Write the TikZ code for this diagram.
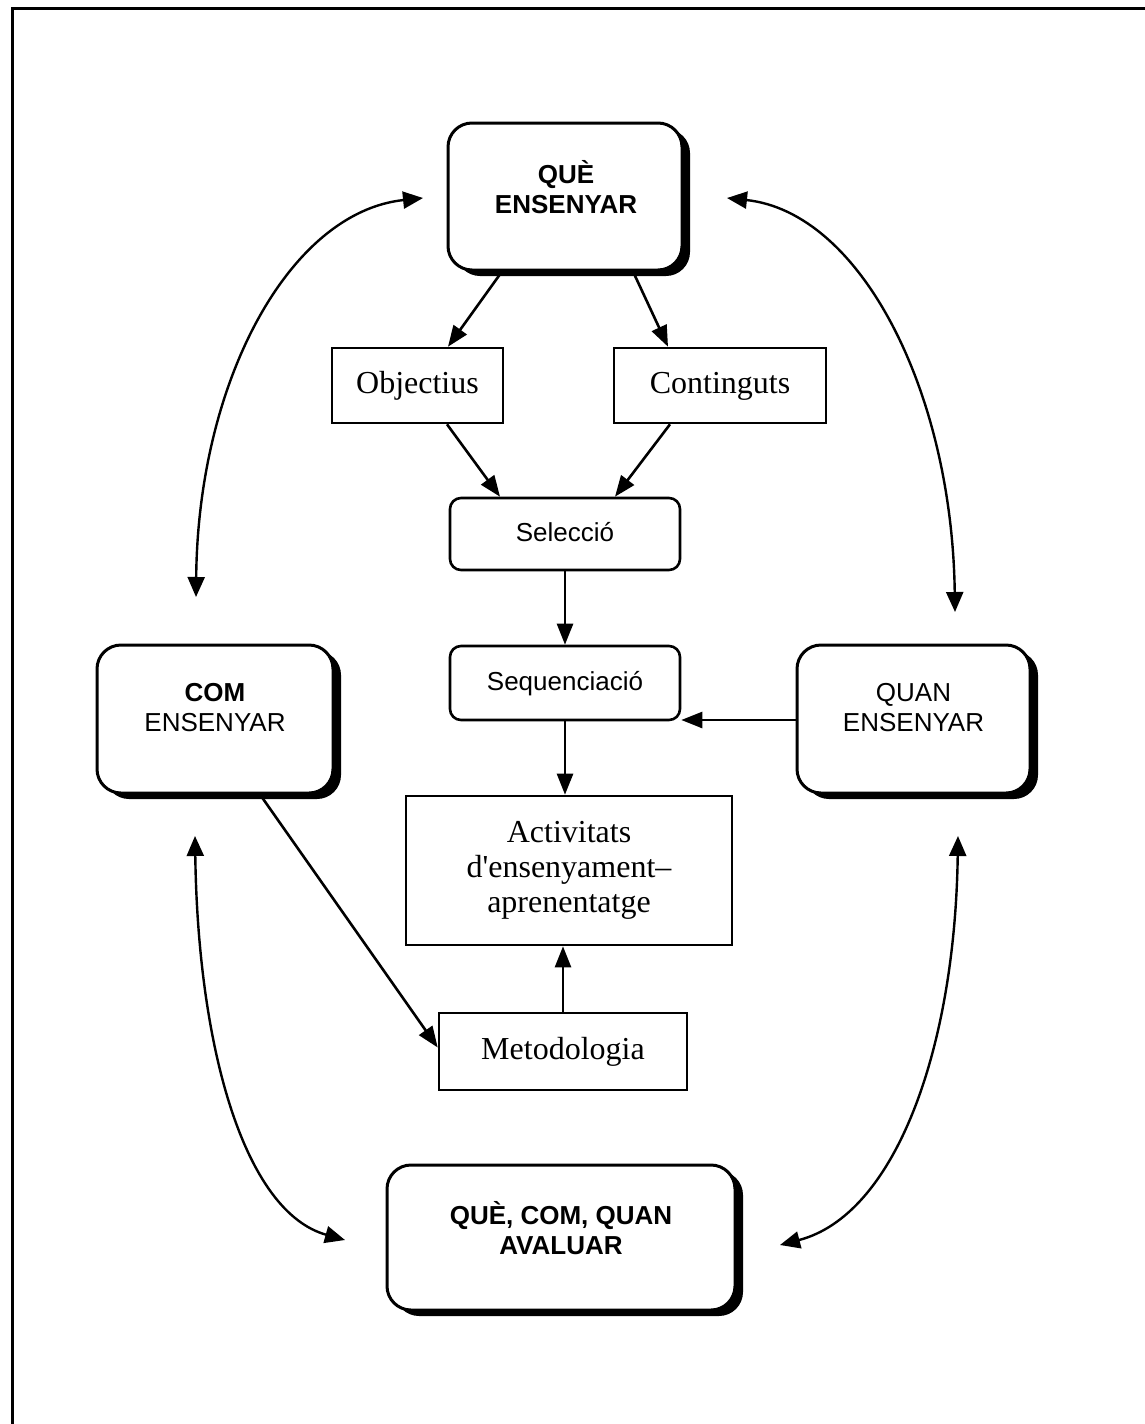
\documentclass[tikz,border=0pt]{standalone}
\usepackage{fontspec}
\setmainfont{Liberation Serif}[Ligatures=TeXOff]
\setsansfont{Liberation Sans}
\usetikzlibrary{arrows.meta,shadows,positioning}
\begin{document}
\begin{tikzpicture}[x=1pt,y=-1pt,
  bigbox/.style={draw,line width=3pt,rounded corners=24pt,fill=white,
    drop shadow={shadow xshift=8pt,shadow yshift=-6pt,opacity=1,fill=black}},
  bigtxt/.style={align=center,font=\sffamily\fontsize{26}{30}\selectfont,inner sep=0pt},
  rectbox/.style={draw,line width=2.6pt,fill=white,font=\rmfamily\fontsize{32}{35}\selectfont,align=center,inner sep=0pt},
  oneline/.style={text height=22pt,text depth=7pt},
  rndbox/.style={draw,line width=2.6pt,rounded corners=11pt,fill=white,font=\sffamily\fontsize{26}{30}\selectfont,inner sep=0pt,text height=19pt,text depth=5pt},
  arr/.style={line width=2.6pt,-{Triangle[length=21pt,width=16pt]}},
  dbl/.style={line width=2.4pt,{Triangle[length=20pt,width=17pt]}-{Triangle[length=20pt,width=17pt]}}
]
\useasboundingbox (0,0) rectangle (1145,1424);
% frame
\draw[line width=3pt] (12,1424) -- (12,8) -- (1145,8);

% big boxes
\node[bigbox,minimum width=234pt,minimum height=147pt] (que) at (565,196.5) {};
\node[bigtxt,font=\sffamily\bfseries\fontsize{26}{30}\selectfont] (queT) at (566,187) {QUÈ\\ENSENYAR};
\node[bigbox,minimum width=236pt,minimum height=148pt] (com) at (215,719) {};
\node[bigtxt] (comT) at (215,708) {\bfseries COM\\ENSENYAR};
\node[bigbox,minimum width=233pt,minimum height=148pt] (quan) at (913.5,719) {};
\node[bigtxt] (quanT) at (913.5,708) {QUAN\\ENSENYAR};
\node[bigbox,minimum width=348pt,minimum height=145pt] (aval) at (561,1237.5) {};
\node[bigtxt,font=\sffamily\bfseries\fontsize{26}{30}\selectfont] (avalT) at (561,1228) {QUÈ, COM, QUAN\\AVALUAR};

% small boxes
\node[rectbox,oneline,minimum width=171pt,minimum height=75pt] (obj) at (417.5,385.5) {Objectius};
\node[rectbox,oneline,minimum width=212pt,minimum height=75pt] (cont) at (720,385.5) {Continguts};
\node[rndbox,minimum width=230pt,minimum height=72pt] (sel) at (565,534) {Selecció};
\node[rndbox,minimum width=230pt,minimum height=74pt] (seq) at (565,683) {Sequenciació};
\node[rectbox,minimum width=326pt,minimum height=149pt] (act) at (569,870.5) {Activitats\\d'ensenyament–\\aprenentatge};
\node[rectbox,oneline,minimum width=248pt,minimum height=77pt] (meto) at (563,1051.5) {Metodologia};

% straight arrows
\draw[arr] ([xshift=-63pt]que.south) -- ([xshift=30.5pt]obj.north);
\draw[arr] ([xshift=68pt]que.south) -- ([xshift=-52pt]cont.north);
\draw[arr] ([xshift=29.5pt]obj.south) -- ([xshift=-65pt]sel.north);
\draw[arr] ([xshift=-50pt]cont.south) -- ([xshift=50pt]sel.north);
\draw[arr] (sel.south) -- (seq.north);
\draw[arr] (seq.south) -- (seq.south |- act.north);
\draw[arr] (meto.north) -- (meto.north |- act.south);
\draw[arr] ([yshift=-1pt]quan.west) -- ([yshift=-1pt]quan.west -| seq.east);
\draw[arr] ([xshift=45pt]com.south) -- ([yshift=4pt]meto.west);

% curved double arrows
\coordinate (a1) at (423,198);
\coordinate (a2) at (196,597);
\coordinate (b1) at (727,198);
\coordinate (b2) at (955,612);
\coordinate (c1) at (195,836);
\coordinate (c2) at (345,1240);
\coordinate (d1) at (958,836);
\coordinate (d2) at (780,1245);
\draw[dbl] (a1) .. controls (290,212) and (198,380) .. (a2);
\draw[dbl] (b1) .. controls (860,212) and (952,390) .. (b2);
\draw[dbl] (c1) .. controls (198,1050) and (245,1212) .. (c2);
\draw[dbl] (d1) .. controls (955,1050) and (895,1215) .. (d2);
\end{tikzpicture}
\end{document}
